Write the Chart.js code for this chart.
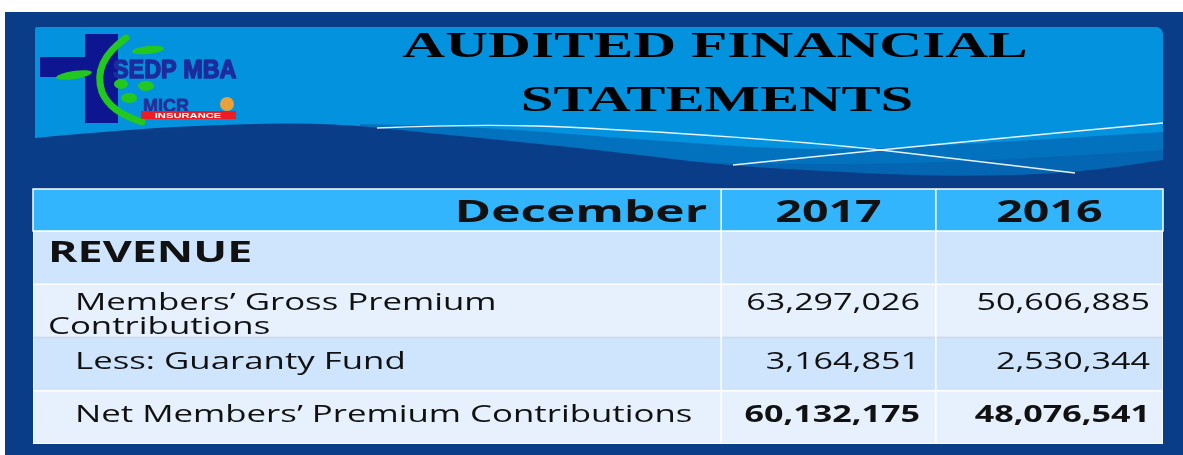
<!DOCTYPE html>
<html>
<head>
<meta charset="utf-8">
<title>Audited Financial Statements</title>
<script src="https://cdn.jsdelivr.net/npm/chart.js@4.4.1/dist/chart.umd.min.js"></script>
<style>
html, body { margin: 0; padding: 0; background: #fff; overflow: hidden; }
canvas { display: block; }
</style>
</head>
<body>
<canvas id="mychart" width="1183" height="455"></canvas>
<script>
// slide content
var titleLines = ['AUDITED FINANCIAL', 'STATEMENTS'];
var headerCols = ['December', '2017', '2016'];
var rowLabels = [
	['REVENUE'],
	['Members\u2019 Gross Premium', 'Contributions'],
	['Less: Guaranty Fund'],
	['Net Members\u2019 Premium Contributions']
];
var values2017 = [null, 63297026, 3164851, 60132175];
var values2016 = [null, 50606885, 2530344, 48076541];
var boldValues = [false, false, false, true];

// look
var rowColors = ['#cfe4fd', '#e6f1fd', '#cfe4fd', '#e6f1fd'];
var colSplit = [0.609, 0.799];
var headerHeight = 42;
var darkBlue = '#0a3d87';

function stretchText(ctx, str, x, y, font, align, sx, color, heavy) {
	ctx.save();
	ctx.font = font;
	ctx.fillStyle = color || '#111111';
	ctx.textAlign = align;
	ctx.textBaseline = 'alphabetic';
	ctx.translate(x, y);
	ctx.scale(sx, 1);
	ctx.fillText(str, 0, 0);
	if (heavy) {
		ctx.strokeStyle = ctx.fillStyle;
		ctx.lineWidth = heavy;
		ctx.lineJoin = 'round';
		ctx.strokeText(str, 0, 0);
	}
	ctx.restore();
}

function smoothTo(ctx, pts, first) {
	if (first) ctx.moveTo(pts[0][0], pts[0][1]);
	else ctx.lineTo(pts[0][0], pts[0][1]);
	for (var i = 1; i < pts.length - 1; i++) {
		var mx = (pts[i][0] + pts[i + 1][0]) / 2, my = (pts[i][1] + pts[i + 1][1]) / 2;
		ctx.quadraticCurveTo(pts[i][0], pts[i][1], mx, my);
	}
	var last = pts[pts.length - 1];
	ctx.lineTo(last[0], last[1]);
}

function drawLogo(ctx) {
	// cross
	ctx.fillStyle = '#0d1690';
	ctx.fillRect(85, 34, 33, 89);
	ctx.fillRect(40, 57, 78, 20);
	// vine
	ctx.strokeStyle = '#22c81e';
	ctx.lineWidth = 7;
	ctx.lineCap = 'round';
	ctx.beginPath();
	ctx.moveTo(126, 38);
	ctx.quadraticCurveTo(92, 62, 102, 92);
	ctx.quadraticCurveTo(110, 112, 142, 122);
	ctx.stroke();
	ctx.fillStyle = '#22c81e';
	ctx.beginPath();
	ctx.ellipse(74, 75, 18, 4, -0.15, 0, Math.PI * 2);
	ctx.fill();
	ctx.beginPath();
	ctx.ellipse(148, 50, 16, 4, -0.1, 0, Math.PI * 2);
	ctx.fill();
	ctx.beginPath();
	ctx.ellipse(121, 84, 7, 5, 0, 0, Math.PI * 2);
	ctx.ellipse(146, 86, 8, 5, 0, 0, Math.PI * 2);
	ctx.fill();
	ctx.beginPath();
	ctx.ellipse(129, 98, 8, 5, 0, 0, Math.PI * 2);
	ctx.fill();
	// names
	stretchText(ctx, 'SEDP MBA', 113, 78, 'bold 26px "Liberation Sans"', 'left', 0.9, '#1c2c9e', 1.6);
	stretchText(ctx, 'MICR', 143, 112, 'bold 18px "Liberation Sans"', 'left', 1.0, '#262f9a', 0.8);
	ctx.fillStyle = '#e9a23b';
	ctx.beginPath();
	ctx.arc(227, 104, 7, 0, Math.PI * 2);
	ctx.fill();
	ctx.fillStyle = '#ed1c24';
	ctx.fillRect(141, 111, 95, 8);
	stretchText(ctx, 'INSURANCE', 188, 118, 'bold 7px "Liberation Sans"', 'center', 1.6, '#ffffff');
}

var slidePlugin = {
	id: 'slide',
	beforeDraw: function (chart) {
		var ctx = chart.ctx;
		ctx.save();
		ctx.fillStyle = '#ffffff';
		ctx.fillRect(0, 0, chart.width, chart.height);
		ctx.fillStyle = darkBlue;
		ctx.fillRect(5, 12, chart.width - 5, chart.height - 12);

		// banner
		ctx.save();
		ctx.beginPath();
		ctx.roundRect(35, 27, 1128, 165, [2, 7, 0, 0]);
		ctx.clip();
		ctx.fillStyle = '#0393de';
		ctx.fillRect(35, 27, 1128, 165);

		ctx.fillStyle = '#0272bf';
		ctx.beginPath();
		smoothTo(ctx, [[360, 124], [470, 126], [620, 138], [820, 152], [1000, 142], [1163, 132]], true);
		ctx.lineTo(1163, 195);
		ctx.lineTo(360, 195);
		ctx.closePath();
		ctx.fill();

		ctx.fillStyle = '#0466b3';
		ctx.beginPath();
		smoothTo(ctx, [[600, 160], [820, 166], [1000, 160], [1163, 150]], true);
		ctx.lineTo(1163, 195);
		ctx.lineTo(600, 195);
		ctx.closePath();
		ctx.fill();

		ctx.fillStyle = darkBlue;
		ctx.beginPath();
		smoothTo(ctx, [[35, 138], [120, 130], [230, 124], [330, 123], [420, 132], [600, 150], [720, 165], [820, 171], [950, 177], [1075, 173], [1163, 160]], true);
		ctx.lineTo(1163, 195);
		ctx.lineTo(35, 195);
		ctx.closePath();
		ctx.fill();

		ctx.strokeStyle = 'rgba(255,255,255,0.9)';
		ctx.lineWidth = 1.3;
		ctx.beginPath();
		smoothTo(ctx, [[377, 128], [470, 124], [600, 128], [820, 143], [950, 158], [1075, 173]], true);
		ctx.stroke();
		ctx.beginPath();
		smoothTo(ctx, [[733, 165], [820, 156], [950, 143], [1163, 123]], true);
		ctx.stroke();
		ctx.restore();

		// title
		stretchText(ctx, titleLines[0], 715, 57, 'bold 36px "Liberation Serif"', 'center', 1.65, '#000000');
		stretchText(ctx, titleLines[1], 717, 111, 'bold 36px "Liberation Serif"', 'center', 1.63, '#000000');
		drawLogo(ctx);
		ctx.restore();
	},
	afterDatasetsDraw: function (chart) {
		var ctx = chart.ctx, area = chart.chartArea;
		var xs = chart.scales.x, ys = chart.scales.y;
		var s1 = xs.getPixelForValue(colSplit[0]), s2 = xs.getPixelForValue(colSplit[1]);
		var headTop = area.top - headerHeight;
		ctx.save();
		ctx.fillStyle = '#33b5fd';
		ctx.fillRect(area.left, headTop, area.right - area.left, headerHeight);
		ctx.strokeStyle = '#ffffff';
		ctx.lineWidth = 1.5;
		ctx.strokeRect(area.left, headTop, area.right - area.left, headerHeight);
		ctx.beginPath();
		ctx.moveTo(s1, headTop);
		ctx.lineTo(s1, area.bottom);
		ctx.moveTo(s2, headTop);
		ctx.lineTo(s2, area.bottom);
		ctx.stroke();

		var headFont = 'bold 31px "Open Sans"';
		stretchText(ctx, headerCols[0], s1 - 14, headTop + 33, headFont, 'right', 1.6);
		stretchText(ctx, headerCols[1], (s1 + s2) / 2, headTop + 33, headFont, 'center', 1.5);
		stretchText(ctx, headerCols[2], (s2 + area.right) / 2, headTop + 33, headFont, 'center', 1.5);

		var bodyFont = '24px "Open Sans"';
		rowLabels.forEach(function (lines, i) {
			var cy = ys.getPixelForValue(i);
			if (i === 0) {
				stretchText(ctx, lines[0], area.left + 15, cy + 4, 'bold 28px "Open Sans"', 'left', 1.6);
				return;
			}
			var y0 = lines.length > 1 ? cy - 1 : cy + 5;
			stretchText(ctx, lines[0], area.left + 42, y0, bodyFont, 'left', 1.45);
			if (lines[1]) stretchText(ctx, lines[1], area.left + 15, y0 + 24, bodyFont, 'left', 1.45);
			var vf = boldValues[i] ? 'bold 24px "Open Sans"' : bodyFont;
			if (values2017[i] != null) stretchText(ctx, values2017[i].toLocaleString('en-US'), s2 - 16, y0, vf, 'right', 1.42);
			if (values2016[i] != null) stretchText(ctx, values2016[i].toLocaleString('en-US'), area.right - 13, y0, vf, 'right', 1.42);
		});
		ctx.restore();
	}
};

new Chart(document.getElementById('mychart'), {
	type: 'bar',
	data: {
		labels: rowLabels.map(function (l) { return l.join(' '); }),
		datasets: [{
			label: 'rows',
			data: rowLabels.map(function () { return 1; }),
			backgroundColor: rowColors,
			borderColor: '#ffffff',
			borderWidth: 1,
			borderSkipped: false,
			barPercentage: 1,
			categoryPercentage: 1
		}]
	},
	options: {
		indexAxis: 'y',
		responsive: false,
		animation: false,
		devicePixelRatio: 1,
		layout: { padding: { left: 33, right: 20, top: 231, bottom: 11 } },
		scales: {
			x: { display: false, min: 0, max: 1 },
			y: { display: false }
		},
		plugins: {
			legend: { display: false },
			tooltip: { enabled: false }
		}
	},
	plugins: [slidePlugin]
});
</script>
</body>
</html>
